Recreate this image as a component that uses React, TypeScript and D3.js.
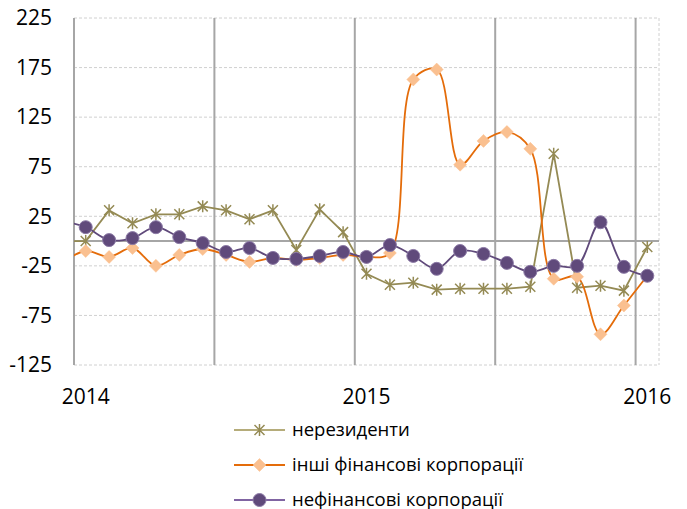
import React from "react";
import * as d3 from "d3";

// monthly values, first entry is Dec 2013 (drawn only as the clipped lead-in segment)
const nonResidents = [0, 0, 31, 18, 27, 27, 35, 31, 22, 31, -9, 32, 9, -33, -44, -42, -49, -48, -48, -48, -46, 88, -47, -45, -50, -6];
const otherFinancial = [-22, -10, -16, -7, -25, -14, -8, -14, -21, -17, -19, -17, -14, -16, -12, 163, 173, 77, 101, 110, 93, -38, -36, -94, -65, -35];
const nonFinancial = [20, 14, 1, 3, 14, 4, -2, -11, -7, -17, -18, -15, -11, -16, -4, -15, -28, -10, -13, -22, -31, -25, -25, 19, -26, -35];

const yearLabels = ["2014", "2015", "2016"];
const yearMonth = [0, 12, 24];
const yTicks = [225, 175, 125, 75, 25, -25, -75, -125];
const halfYearLines = [6, 12, 18, 24];
const seriesNames = ["нерезиденти", "інші фінансові корпорації", "нефінансові корпорації"];

const FONT = "'Open Sans', 'DejaVu Sans', sans-serif";

const App = () => {
    const [width, height] = [687, 509];
    const plot = { left: 74, right: 659, top: 18, bottom: 365 };

    // x scale in months, each month is a category slot, points sit in its centre
    const xScale = d3.scaleLinear().domain([0, 25]).range([plot.left, plot.right]);
    const yScale = d3.scaleLinear().domain([-125, 225]).range([plot.bottom, plot.top]);

    const px = (i: number) => xScale(i - 1 + 0.5); // index 0 is the month before the axis start

    const straight = d3.line<number>().x((d, i) => px(i)).y((d) => yScale(d));
    const smooth = d3.line<number>().x((d, i) => px(i)).y((d) => yScale(d)).curve(d3.curveCatmullRom.alpha(0.5));

    const star = "M0,-6L0,6M-5,-5L5,5M-5,5L5,-5";
    const diamond = "M0,-6.5L6.5,0L0,6.5L-6.5,0Z";

    const series = [
        { data: nonResidents, line: straight, stroke: "#948A54", marker: "star" },
        { data: otherFinancial, line: smooth, stroke: "#E46C0A", marker: "diamond" },
        { data: nonFinancial, line: smooth, stroke: "#604A7B", marker: "circle" },
    ];

    function drawMarker(kind: string, x: number, y: number, key: any) {
        if (kind === "star") {
            return <path key={key} d={star} transform={`translate(${x},${y})`} stroke="#948A54" strokeWidth={1.5} fill="none" />;
        }
        if (kind === "diamond") {
            return <path key={key} d={diamond} transform={`translate(${x},${y})`} fill="#FAC090" stroke="#FAC090" strokeWidth={0.5} />;
        }
        return <circle key={key} cx={x} cy={y} r={6.5} fill="#604A7B" stroke="#8C7AA6" strokeWidth={1} />;
    }

    const legendY = [430, 465, 500];

    return (
        <svg width={width} height={height} style={{ position: "absolute", left: 0, top: 0, background: "#fff" }} fontFamily={FONT}>
            <defs>
                <clipPath id="plotClip">
                    <rect x={plot.left} y={plot.top - 8} width={plot.right - plot.left + 8} height={plot.bottom - plot.top + 16} />
                </clipPath>
                <clipPath id="lineClip">
                    <rect x={plot.left} y={plot.top - 8} width={plot.right - plot.left} height={plot.bottom - plot.top + 16} />
                </clipPath>
            </defs>

            {/* horizontal dotted gridlines */}
            {yTicks.map((t) => (
                <line key={"g" + t} x1={plot.left} x2={plot.right} y1={yScale(t)} y2={yScale(t)} stroke="#D0D0D0" strokeWidth={1} strokeDasharray="3,2" />
            ))}
            <line x1={plot.right} x2={plot.right} y1={plot.top} y2={plot.bottom} stroke="#D0D0D0" strokeWidth={1} strokeDasharray="3,2" />

            {/* half-year vertical lines */}
            {halfYearLines.map((m) => (
                <line key={"v" + m} x1={xScale(m)} x2={xScale(m)} y1={plot.top} y2={plot.bottom} stroke="#A6A6A6" strokeWidth={2} />
            ))}
            <line x1={plot.left} x2={plot.left} y1={plot.top} y2={plot.bottom} stroke="#A6A6A6" strokeWidth={2} />
            <line x1={plot.left} x2={plot.right} y1={yScale(0)} y2={yScale(0)} stroke="#A6A6A6" strokeWidth={2} />

            {/* y labels */}
            {yTicks.map((t) => (
                <text key={"yl" + t} x={52} y={yScale(t)} dy="0.35em" textAnchor="end" fontSize={21} fill="#000">{t}</text>
            ))}

            {/* year labels */}
            {yearLabels.map((l, i) => (
                <text key={l} x={xScale(yearMonth[i] + 0.5)} y={404} textAnchor="middle" fontSize={21} fill="#000">{l}</text>
            ))}

            {/* series */}
            <g clipPath="url(#lineClip)">
                {series.map((s, k) => (
                    <path key={"s" + k} d={s.line(s.data) || ""} fill="none" stroke={s.stroke} strokeWidth={1.8} />
                ))}
            </g>
            <g clipPath="url(#plotClip)">
                {series.map((s, k) => s.data.map((v, i) => (i === 0 ? null : drawMarker(s.marker, px(i), yScale(v), k + "-" + i))))}
            </g>

            {/* legend */}
            {series.map((s, k) => (
                <g key={"lg" + k}>
                    <line x1={234} x2={285} y1={legendY[k]} y2={legendY[k]} stroke={k === 0 ? "#B5AC7A" : k === 2 ? "#8064A2" : s.stroke} strokeWidth={2} />
                    {drawMarker(s.marker, 259.5, legendY[k], "lm" + k)}
                    <text x={292} y={legendY[k]} dy="0.35em" fontSize={18.5} fill="#000">{seriesNames[k]}</text>
                </g>
            ))}
        </svg>
    );
};

export default App;
